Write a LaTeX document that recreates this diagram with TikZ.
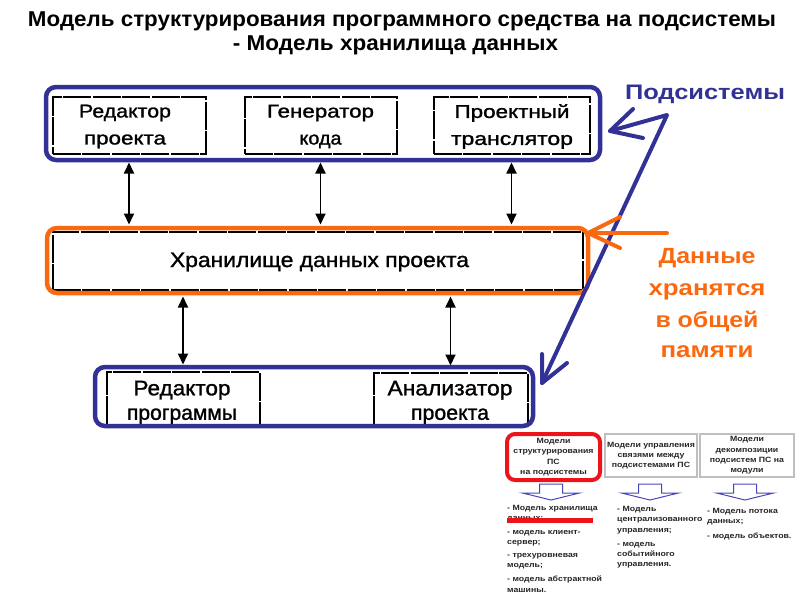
\documentclass[tikz,border=0pt]{standalone}
\usepackage{fontspec}
\usepackage{graphicx}
\setmainfont{Liberation Sans}
\newfontfamily\smallfont[FakeStretch=1.15]{Liberation Sans}
\newfontfamily\scanfont[FakeBold=1.2]{Liberation Sans}
\usetikzlibrary{arrows.meta}
\definecolor{dblue}{RGB}{50,50,150}
\definecolor{orng}{RGB}{250,105,15}
\definecolor{rred}{RGB}{235,20,25}
\definecolor{ablue}{RGB}{70,70,185}
\newcommand\fitw[2]{\resizebox{#1pt}{\height}{#2}}
\begin{document}
\begin{tikzpicture}[x=1pt,y=-1pt,
  scanbox/.style={draw=black, line width=2pt, dash pattern=on 28pt off 1.5pt, fill=white, inner sep=0pt},
  bframe/.style={draw=dblue, line width=4.5pt, rounded corners=10pt, inner sep=0pt},
  oframe/.style={draw=orng, line width=4.5pt, rounded corners=10pt, inner sep=0pt},
  dbl/.style={{Triangle[width=10pt,length=11pt]}-{Triangle[width=10pt,length=11pt]}, line width=1.8pt},
  annot/.style={line width=4pt, line cap=round, line join=round},
  topfont/.style={font=\scanfont\fontsize{18.5}{27}\selectfont, align=center, inner sep=0pt},
  botfont/.style={font=\scanfont\fontsize{21}{24.5}\selectfont, align=center, inner sep=0pt},
  smalltxt/.style={font=\smallfont\bfseries\fontsize{7.6}{10.3}\selectfont, text=black!85, inner sep=0pt},
  mbox/.style={minimum width=92pt, minimum height=43pt, inner sep=0pt, align=center, draw=black!25, line width=1.5pt},
  blockarrow/.style={draw=ablue, fill=white, line width=1pt, line join=miter},
  titlefont/.style={font=\bfseries\fontsize{21.5}{24}\selectfont, inner sep=0pt, anchor=base}
]
\useasboundingbox (0,0) rectangle (800,600);

% titles
\node[titlefont] (t1) at (402,26) {\fitw{748}{Модель структурирования программного средства на подсистемы}};
\node[titlefont] (t2) at (395.5,50) {\fitw{325}{- Модель хранилища данных}};

% scanned boxes
\node[scanbox, minimum width=153pt, minimum height=57pt] (b1) at (129,125) {};
\node[scanbox, minimum width=152pt, minimum height=57pt] (b2) at (320.5,125) {};
\node[scanbox, minimum width=156pt, minimum height=57pt] (b3) at (511.5,125) {};
\node[scanbox, minimum width=530pt, minimum height=58pt] (store) at (317.5,260.5) {};
\node[scanbox, minimum width=153pt, minimum height=53pt] (b4) at (183,398) {};
\node[scanbox, minimum width=154pt, minimum height=52pt] (b5) at (450.5,398.5) {};

% box texts
\node[topfont] (b1t) at (125,126.5) {\fitw{92}{Редактор}\\\fitw{82}{проекта}};
\node[topfont] (b2t) at (320.5,126.5) {\fitw{107}{Генератор}\\\fitw{42}{кода}};
\node[topfont] (b3t) at (512,126.5) {\fitw{115}{Проектный}\\\fitw{122}{транслятор}};
\node[font=\scanfont\fontsize{21}{25}\selectfont, inner sep=0pt] (storet) at (319.5,262) {\fitw{299}{Хранилище данных проекта}};
\node[botfont] (b4t) at (182,402.5) {\fitw{97}{Редактор}\\\fitw{110}{программы}};
\node[botfont] (b5t) at (450,402.5) {\fitw{125}{Анализатор}\\\fitw{78}{проекта}};

% double arrows
\draw[dbl, shorten <=8pt, shorten >=6pt] (b1.south) -- (b1.south |- store.north);
\draw[dbl, shorten <=8pt, shorten >=6pt] (b2.south) -- (b2.south |- store.north);
\draw[dbl, shorten <=8pt, shorten >=6pt] (b3.south) -- (b3.south |- store.north);
\draw[dbl, shorten <=6pt, shorten >=6pt] (store.south -| b4.north) -- (b4.north);
\draw[dbl, shorten <=6pt, shorten >=6pt] (store.south -| b5.north) -- (b5.north);

% frames
\node[bframe, minimum width=554pt, minimum height=73pt] (topframe) at (323,123.5) {};
\node[oframe, minimum width=541pt, minimum height=65pt] (oframe) at (317.5,260.5) {};
\node[bframe, minimum width=438pt, minimum height=59pt] (botframe) at (314,396.5) {};

% annotation: subsystems
\node[anchor=base, text=dblue, font=\bfseries\fontsize{21}{25}\selectfont, inner sep=0pt] (sub) at (705,99) {\fitw{160}{Подсистемы}};
\coordinate (pv) at (667,115);
\coordinate (ta) at (610,131);
\coordinate (tb1) at (633,109);
\coordinate (tb2) at (643,138);
\coordinate (ba) at (542,383);
\coordinate (bb1) at (542,354);
\coordinate (bb2) at (567,363);
\draw[annot, dblue] (ta) -- (pv) -- (ba);
\draw[annot, dblue] (tb1) -- (ta) -- (tb2);
\draw[annot, dblue] (bb1) -- (ba) -- (bb2);

% annotation: data
\coordinate (os) at (667,233);
\coordinate (ot) at (588,233);
\coordinate (ob1) at (620,217);
\coordinate (ob2) at (620,248);
\draw[annot, orng] (os) -- (ot);
\draw[annot, orng] (ob1) -- (ot) -- (ob2);
\node[anchor=base, text=orng, font=\bfseries\fontsize{22}{26}\selectfont, inner sep=0pt] (d1) at (707,263) {\fitw{97}{Данные}};
\node[anchor=base, text=orng, font=\bfseries\fontsize{22}{26}\selectfont, inner sep=0pt] (d2) at (707,295) {\fitw{117}{хранятся}};
\node[anchor=base, text=orng, font=\bfseries\fontsize{22}{26}\selectfont, inner sep=0pt] (d3) at (707,327) {\fitw{103}{в общей}};
\node[anchor=base, text=orng, font=\bfseries\fontsize{22}{26}\selectfont, inner sep=0pt] (d4) at (707,357) {\fitw{93}{памяти}};

% small panel
\node[smalltxt, align=center, draw=rred, line width=4pt, rounded corners=8pt, minimum width=93pt, minimum height=46pt] (m1) at (553.5,457) {Модели\\структурирования\\ПС\\на подсистемы};
\node[smalltxt, mbox] (m2) at (651,455.5) {Модели управления\\связями между\\подсистемами ПС};
\node[smalltxt, mbox, minimum width=94pt] (m3) at (747,455.5) {Модели\\декомпозиции\\подсистем ПС на\\модули};

\foreach \c in {551,650,745} {
  \draw[blockarrow] (\c-11.5,484) -- (\c+11.5,484) -- (\c+11.5,493) -- (\c+28.5,493) -- (\c,500) -- (\c-28.5,493) -- (\c-11.5,493) -- cycle;
}

\node[smalltxt, anchor=base west] (c1a) at (507,510) {- Модель хранилища};
\node[smalltxt, anchor=base west] (c1b) at (507,520) {данных;};
\node[smalltxt, anchor=base west] (c1c) at (507,534) {- модель клиент-};
\node[smalltxt, anchor=base west] (c1d) at (507,544) {сервер;};
\node[smalltxt, anchor=base west] (c1e) at (507,557) {- трехуровневая};
\node[smalltxt, anchor=base west] (c1f) at (507,567) {модель;};
\node[smalltxt, anchor=base west] (c1g) at (507,581) {- модель абстрактной};
\node[smalltxt, anchor=base west] (c1h) at (507,592) {машины.};
\fill[rred] (507,517.5) rectangle (593,522.5);

\node[smalltxt, anchor=base west] (c2a) at (617,511) {- Модель};
\node[smalltxt, anchor=base west] (c2b) at (617,521) {централизованного};
\node[smalltxt, anchor=base west] (c2c) at (617,532) {управления;};
\node[smalltxt, anchor=base west] (c2d) at (617,546) {- модель};
\node[smalltxt, anchor=base west] (c2e) at (617,556) {событийного};
\node[smalltxt, anchor=base west] (c2f) at (617,566) {управления.};

\node[smalltxt, anchor=base west] (c3a) at (707,513) {- Модель потока};
\node[smalltxt, anchor=base west] (c3b) at (707,523) {данных;};
\node[smalltxt, anchor=base west] (c3c) at (707,538) {- модель объектов.};
\end{tikzpicture}
\end{document}
